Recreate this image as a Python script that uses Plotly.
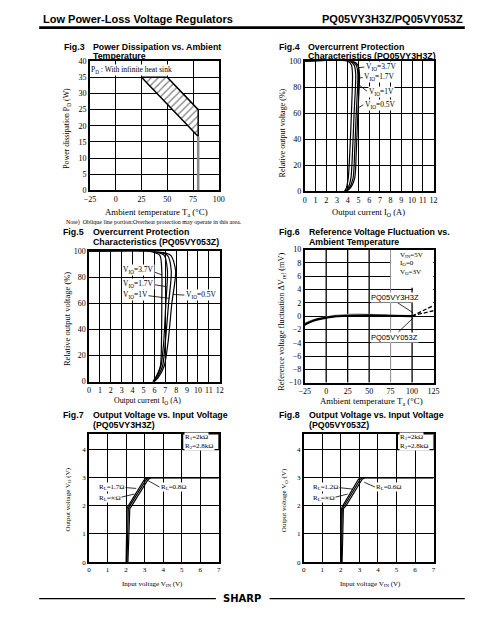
import plotly.graph_objects as go

W, H = 504, 643
SERIF = "Liberation Serif, Times New Roman, serif"
SANS = "Liberation Sans, Arial, sans-serif"

# ---------------- data ----------------
# Fig.3 Power dissipation vs ambient temperature
fig3_ta_ticks = [-25, 0, 25, 50, 75, 100]
fig3_pd_ticks = [0, 5, 10, 15, 20, 25, 30, 35, 40]
fig3_area_ta = [25, 50, 80, 80, 25]
fig3_area_pd = [35, 35, 25, 16.7, 35]
fig3_limit_ta = [80, 80]
fig3_limit_pd = [16.7, 0]

# Fig.4 Overcurrent protection PQ05VY3H3Z
fig4_io_ticks = list(range(0, 13))
fig4_rel_ticks = [0, 20, 40, 60, 80, 100]
fig4_rel = [100, 100, 97, 90, 60, 30, 10, 2, 0]
fig4_io_37 = [0, 4.0, 4.35, 4.45, 4.35, 4.2, 4.05, 3.85, 3.7]
fig4_io_17 = [0, 4.2, 4.6, 4.75, 4.6, 4.45, 4.3, 4.0, 3.75]
fig4_io_1 = [0, 4.35, 4.8, 4.95, 4.8, 4.65, 4.5, 4.1, 3.8]
fig4_io_05 = [0, 4.5, 4.95, 5.1, 4.95, 4.8, 4.65, 4.2, 3.85]

# Fig.5 Overcurrent protection PQ05VY053Z
fig5_rel = [100, 100, 97, 85, 60, 30, 12, 3, 0]
fig5_io_37 = [0, 5.6, 6.5, 6.68, 6.68, 6.65, 6.55, 6.1, 5.85]
fig5_io_17 = [0, 5.8, 6.9, 7.2, 7.05, 6.85, 6.6, 6.15, 5.9]
fig5_io_1 = [0, 6.0, 7.2, 7.55, 7.3, 7.0, 6.75, 6.25, 5.95]
fig5_io_05 = [0, 6.2, 7.5, 7.95, 7.6, 7.25, 6.9, 6.35, 6.0]

# Fig.6 Reference voltage fluctuation
fig6_ta_ticks = [-25, 0, 25, 50, 75, 100, 125]
fig6_dv_ticks = [-10, -8, -6, -4, -2, 0, 2, 4, 6, 8, 10]
fig6_ta = [-25, -20, -10, 0, 10, 25, 50, 75, 100]
fig6_dv_3h3 = [-1.3, -0.95, -0.5, -0.25, -0.05, 0.05, 0.1, 0.05, 0.0]
fig6_dv_053 = [-1.1, -0.8, -0.4, -0.15, 0.1, 0.25, 0.25, 0.1, 0.05]
fig6_ext_ta = [100, 125]
fig6_ext_3h3 = [0.0, 1.6]
fig6_ext_053 = [0.05, 0.8]

# Fig.7 / Fig.8 Output voltage vs input voltage
fig78_vin_ticks = [0, 1, 2, 3, 4, 5, 6, 7]
fig78_vo_ticks = [0, 1, 2, 3, 4]
fig78_vo = [0, 1.9, 2.0, 2.95, 3.0, 3.0]
fig7_vin_inf = [2.0, 2.05, 2.12, 3.0, 3.15, 7.0]
fig7_vin_17 = [2.05, 2.12, 2.2, 3.1, 3.25, 7.0]
fig7_vin_08 = [2.1, 2.2, 2.3, 3.2, 3.35, 7.0]
fig8_vin_inf = [2.0, 2.03, 2.1, 2.95, 3.05, 7.0]
fig8_vin_12 = [2.03, 2.08, 2.18, 3.05, 3.18, 7.0]
fig8_vin_06 = [2.07, 2.14, 2.28, 3.15, 3.3, 7.0]

# label leader lines (x pair, y pair) per panel
fig4_leaders = [((5.0, 5.55), (95, 95.5)), ((5.08, 5.4), (87, 87.5)),
                ((5.02, 5.8), (82, 77)), ((4.96, 5.45), (64, 66.5))]
fig5_leaders = [((5.6, 6.68), (85.5, 82)), ((5.6, 7.12), (75, 73)),
                ((5.0, 7.35), (66.5, 64)), ((8.75, 7.7), (66.5, 67))]
fig6_leaders = [((82, 101), (2.1, 0.5)), ((84, 101), (-2.4, -0.3))]
fig7_leaders = [((1.58, 2.55), (2.67, 2.62)), ((1.55, 2.45), (2.28, 2.42)),
                ((3.8, 3.05), (2.67, 2.95))]
fig8_leaders = [((1.58, 2.6), (2.67, 2.6)), ((1.53, 2.37), (2.28, 2.42)),
                ((3.84, 3.26), (2.67, 2.84))]


def px_x(p):
    return p / W


def px_y(p):
    return 1 - p / H


def axis(xpx, ypx, rng, tickvals, fs, letter, anchor, showgrid=True):
    if letter == "x":
        dom = [px_x(xpx[0]), px_x(xpx[1])]
    else:
        dom = [px_y(ypx[1]), px_y(ypx[0])]
    return dict(domain=dom, range=rng, tickvals=tickvals, showgrid=showgrid,
                gridcolor="black", gridwidth=1.3, showline=True, linecolor="black",
                linewidth=1.5, mirror=True, ticks="", zeroline=False, anchor=anchor,
                tickfont=dict(family=SERIF, size=fs, color="black"), fixedrange=True)


boxes = {
    1: ((86, 218), (58, 189)),
    2: ((306, 438), (58, 190)),
    3: ((85, 219), (251, 383)),
    4: ((306, 438), (249, 384)),
    5: ((85, 218), (436, 566)),
    6: ((305, 438), (436, 566)),
}

fig = go.Figure()


def line(x, y, n, color="black", width=1.3, dash="solid", shape="spline"):
    xa = "x" if n == 1 else f"x{n}"
    ya = "y" if n == 1 else f"y{n}"
    fig.add_trace(go.Scatter(x=x, y=y, xaxis=xa, yaxis=ya, mode="lines",
                             line=dict(color=color, width=width, dash=dash, shape=shape, smoothing=0.7),
                             hoverinfo="skip", showlegend=False))


# Fig.3
fig.add_trace(go.Scatter(x=fig3_area_ta, y=fig3_area_pd, xaxis="x", yaxis="y", mode="lines",
                         fill="toself", fillcolor="white",
                         fillpattern=dict(shape="/", fgcolor="black", bgcolor="white", size=5, solidity=0.25),
                         line=dict(color="black", width=1.5), hoverinfo="skip", showlegend=False))
line(fig3_limit_ta, fig3_limit_pd, 1, color="#8a8a8a", width=2.5, shape="linear")

# Fig.4
for xs in (fig4_io_37, fig4_io_17, fig4_io_1, fig4_io_05):
    line(xs, fig4_rel, 2, width=1.2)

# Fig.5
for xs in (fig5_io_37, fig5_io_17, fig5_io_1, fig5_io_05):
    line(xs, fig5_rel, 3, width=1.2)

# Fig.6
line(fig6_ta, fig6_dv_053, 4, color="#9a9a9a", width=1.3)
line(fig6_ta, fig6_dv_3h3, 4, color="black", width=2.2)
line(fig6_ext_ta, fig6_ext_3h3, 4, color="black", width=1.3, dash="4px,2px", shape="linear")
line(fig6_ext_ta, fig6_ext_053, 4, color="black", width=1.3, dash="4px,2px", shape="linear")

# Fig.7
for xs in (fig7_vin_inf, fig7_vin_17, fig7_vin_08):
    line(xs, fig78_vo, 5, width=1.2, shape="linear")
# Fig.8
for xs in (fig8_vin_inf, fig8_vin_12, fig8_vin_06):
    line(xs, fig78_vo, 6, width=1.1, shape="linear")

# leader lines
for n, leaders in ((2, fig4_leaders), (3, fig5_leaders), (4, fig6_leaders),
                   (5, fig7_leaders), (6, fig8_leaders)):
    for lx, ly in leaders:
        line(list(lx), list(ly), n, width=0.8, shape="linear")

layout = dict(width=W, height=H, margin=dict(l=0, r=0, t=0, b=0), autosize=False,
              paper_bgcolor="white", plot_bgcolor="white", showlegend=False)

specs = {
    1: ([-25, 100], fig3_ta_ticks, [0, 40], fig3_pd_ticks, 8),
    2: ([0, 12], fig4_io_ticks, [0, 100], fig4_rel_ticks, 8),
    3: ([0, 12], fig4_io_ticks, [0, 100], fig4_rel_ticks, 8),
    4: ([-25, 125], fig6_ta_ticks, [-10, 10], fig6_dv_ticks, 8),
    5: ([0, 7], fig78_vin_ticks, [0, 4.56], fig78_vo_ticks, 7),
    6: ([0, 7], fig78_vin_ticks, [0, 4.56], fig78_vo_ticks, 7),
}
for n, (xr, xt, yr, yt, fs) in specs.items():
    xk = "xaxis" if n == 1 else f"xaxis{n}"
    yk = "yaxis" if n == 1 else f"yaxis{n}"
    xa = "x" if n == 1 else f"x{n}"
    ya = "y" if n == 1 else f"y{n}"
    bx, by = boxes[n]
    layout[xk] = axis(bx, by, xr, xt, fs, "x", ya, showgrid=(n != 4))
    layout[yk] = axis(bx, by, yr, yt, fs, "y", xa)

fig.update_layout(**layout)

shapes = []
# Fig.6 vertical gridlines (75 is grey)
for v in [0, 25, 50, 100]:
    shapes.append(dict(type="line", xref="x4", yref="y4", x0=v, x1=v, y0=-10, y1=10,
                       line=dict(color="black", width=1.3), layer="between"))
shapes.append(dict(type="line", xref="x4", yref="y4", x0=75, x1=75, y0=-10, y1=10,
                   line=dict(color="#8a8a8a", width=1), layer="between"))
# Fig.6 condition box clears grid
shapes.append(dict(type="rect", xref="x4", yref="y4", x0=75.6, x1=125, y0=4.25, y1=10,
                   fillcolor="white", line=dict(width=0), layer="between"))
shapes.append(dict(type="rect", xref="x4", yref="y4", x0=101, x1=125, y0=1.7, y1=4.3,
                   fillcolor="white", line=dict(width=0), layer="between"))
# Fig.7/8 resistor boxes
shapes.append(dict(type="rect", xref="x5", yref="y5", x0=5.05, x1=7, y0=4.0, y1=4.56,
                   fillcolor="white", line=dict(color="black", width=1.2), layer="between"))
shapes.append(dict(type="rect", xref="x6", yref="y6", x0=5.05, x1=7, y0=4.0, y1=4.56,
                   fillcolor="white", line=dict(color="black", width=1.2), layer="between"))
# header and footer rules
shapes.append(dict(type="line", xref="paper", yref="paper", x0=px_x(34), x1=px_x(470),
                   y0=px_y(24), y1=px_y(24), line=dict(color="black", width=2.6)))
shapes.append(dict(type="line", xref="paper", yref="paper", x0=px_x(34), x1=px_x(215),
                   y0=px_y(603), y1=px_y(603), line=dict(color="black", width=1.2)))
shapes.append(dict(type="line", xref="paper", yref="paper", x0=px_x(270), x1=px_x(470),
                   y0=px_y(603), y1=px_y(603), line=dict(color="black", width=1.2)))
fig.update_layout(shapes=shapes)

ann = []


def ptext(text, x, y, size, family=SANS, bold=False, anchor="left", angle=0):
    t = f"<b>{text}</b>" if bold else text
    ann.append(dict(text=t, xref="paper", yref="paper", x=px_x(x), y=px_y(y), xanchor=anchor,
                    yanchor="middle", showarrow=False, textangle=angle,
                    font=dict(family=family, size=size, color="black")))


def dtext(text, n, x, y, size, family=SERIF, anchor="left", bg="white"):
    ann.append(dict(text=text, xref=f"x{n}" if n > 1 else "x", yref=f"y{n}" if n > 1 else "y",
                    x=x, y=y, xanchor=anchor, yanchor="middle", showarrow=False,
                    bgcolor=bg, borderpad=0, font=dict(family=family, size=size, color="black")))


# header
ptext("Low Power-Loss Voltage Regulators", 36, 15, 11, bold=True)
ptext("PQ05VY3H3Z/PQ05VY053Z", 470, 15, 11, bold=True, anchor="right")
ptext("SHARP", 242, 603, 10, family="DejaVu Sans, sans-serif", bold=True, anchor="center")

# titles
TS = 8.8
ptext("Fig.3", 57, 43.5, TS, bold=True)
ptext("Power Dissipation vs. Ambient", 87, 43.5, TS, bold=True)
ptext("Temperature", 87, 53, TS, bold=True)
ptext("Fig.4", 278, 43.5, TS, bold=True)
ptext("Overcurrent Protection", 307, 43.5, TS, bold=True)
ptext("Characteristics (PQ05VY3H3Z)", 307, 53, TS, bold=True)
ptext("Fig.5", 56, 231.5, TS, bold=True)
ptext("Overcurrent Protection", 87, 231.5, TS, bold=True)
ptext("Characteristics (PQ05VY053Z)", 87, 241.5, TS, bold=True)
ptext("Fig.6", 278, 231.5, TS, bold=True)
ptext("Reference Voltage Fluctuation vs.", 308, 231.5, TS, bold=True)
ptext("Ambient Temperature", 308, 241.5, TS, bold=True)
ptext("Fig.7", 56, 417, TS, bold=True)
ptext("Output Voltage vs. Input Voltage", 87, 417, TS, bold=True)
ptext("(PQ05VY3H3Z)", 87, 427, TS, bold=True)
ptext("Fig.8", 278, 417, TS, bold=True)
ptext("Output Voltage vs. Input Voltage", 308, 417, TS, bold=True)
ptext("(PQ05VY053Z)", 308, 427, TS, bold=True)

# axis titles
ptext("Power dissipation P<sub>D</sub> (W)", 63, 126, 7.8, family=SERIF, anchor="center", angle=-90)
ptext("Ambient temperature T<sub>a</sub> (°C)", 154, 211, 8.8, family=SERIF, anchor="center")
ptext("Note)  Oblique line portion:Overheat protection may operate in this area.", 59, 222, 6,
      family=SERIF)
ptext("Relative output voltage (%)", 283, 131, 8, family=SERIF, anchor="center", angle=-90)
ptext("Output current I<sub>O</sub> (A)", 371, 211, 8.5, family=SERIF, anchor="center")
ptext("Relative output voltage (%)", 62, 320, 8.5, family=SERIF, anchor="center", angle=-90)
ptext("Output current I<sub>O</sub> (A)", 145, 403, 7.8, family=SERIF, anchor="center")
ptext("Reference voltage fluctuation ΔV<sub>ref</sub> (mV)", 283, 322, 8.3, family=SERIF,
      anchor="center", angle=-90)
ptext("Ambient temperature T<sub>a</sub> (°C)", 374, 403, 8.8, family=SERIF, anchor="center")
ptext("Output voltage V<sub>O</sub> (V)", 63, 503, 7, family=SERIF, anchor="center", angle=-90)
ptext("Input voltage V<sub>IN</sub> (V)", 150, 588, 7, family=SERIF, anchor="center")
ptext("Output voltage V<sub>O</sub> (V)", 285, 503, 7, family=SERIF, anchor="center", angle=-90)
ptext("Input voltage V<sub>IN</sub> (V)", 373, 588, 7, family=SERIF, anchor="center")

# Fig.3 note inside
dtext("P<sub>D</sub> : With infinite heat sink", 1, -24.5, 37.2, 7.5)

# Fig.4 labels
dtext("V<sub>IO</sub>=3.7V", 2, 5.6, 95.8, 7.5)
dtext("V<sub>IO</sub>=1.7V", 2, 5.42, 87.5, 7.5)
dtext("V<sub>IO</sub>=1V", 2, 5.85, 76.5, 7.5)
dtext("V<sub>IO</sub>=0.5V", 2, 5.5, 66.7, 7.5)

# Fig.5 labels
dtext("V<sub>IO</sub>=3.7V", 3, 3.0, 85.6, 7.5)
dtext("V<sub>IO</sub>=1.7V", 3, 3.0, 75, 7.5)
dtext("V<sub>IO</sub>=1V", 3, 3.0, 66.7, 7.5)
dtext("V<sub>IO</sub>=0.5V", 3, 8.8, 66.7, 7.5)

# Fig.6 labels
dtext("V<sub>IN</sub>=5V", 4, 85.2, 9.2, 7)
dtext("I<sub>O</sub>=0", 4, 85.2, 7.9, 7)
dtext("V<sub>O</sub>=3V", 4, 85.2, 6.6, 7)
dtext("PQ05VY3H3Z", 4, 51, 2.74, 7.5, family=SANS)
dtext("PQ05VY053Z", 4, 51, -3.2, 7.5, family=SANS)

# Fig.7 labels
dtext("R<sub>1</sub>=2kΩ", 5, 5.15, 4.44, 7)
dtext("R<sub>2</sub>=2.8kΩ", 5, 5.15, 4.14, 7)
dtext("R<sub>L</sub>=1.7Ω", 5, 0.47, 2.67, 7)
dtext("R<sub>L</sub>=∞Ω", 5, 0.47, 2.28, 7)
dtext("R<sub>L</sub>=0.8Ω", 5, 3.84, 2.67, 7)

# Fig.8 labels
dtext("R<sub>1</sub>=2kΩ", 6, 5.15, 4.44, 7)
dtext("R<sub>2</sub>=2.8kΩ", 6, 5.15, 4.14, 7)
dtext("R<sub>L</sub>=1.2Ω", 6, 0.42, 2.67, 7)
dtext("R<sub>L</sub>=∞Ω", 6, 0.42, 2.28, 7)
dtext("R<sub>L</sub>=0.6Ω", 6, 3.84, 2.67, 7)

fig.update_layout(annotations=ann)
fig.write_html("out.html", config={"displayModeBar": False},
               post_script="document.body.style.margin='0';document.body.style.overflow='hidden';")
